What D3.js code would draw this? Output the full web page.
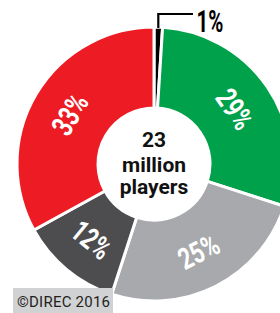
<!DOCTYPE html>
<html>
<head>
<meta charset="utf-8">
<script src="https://cdn.jsdelivr.net/npm/d3@7"></script>
<style>
  body { margin: 0; background: #fff; }
  svg { display: block; overflow: hidden; }
</style>
</head>
<body>
<script>
// share of players by group, clockwise from the top
var groups = ["g1", "g2", "g3", "g4", "g5"];
var shares = [1, 29, 25, 12, 33];
var shareLabels = ["1%", "29%", "25%", "12%", "33%"];
var centerLines = ["23", "million", "players"];
var credit = "©DIREC 2016";

var colors = ["#000000", "#00a14b", "#a7a9ac", "#4d4d4f", "#ed1c24"];

var svgWidth = 280;
var svgHeight = 313;
var cx = 154, cy = 164;
var outerR = 137, innerR = 56;

var svg = d3.select("body").append("svg").attr("width", svgWidth).attr("height", svgHeight);
var chartGroup = svg.append("g").attr("transform", `translate(${cx}, ${cy})`);

var color = d3.scaleOrdinal().domain(groups).range(colors);
var pie = d3.pie().sort(null).value(d => d.v);
var arc = d3.arc().innerRadius(innerR).outerRadius(outerR);
var labelArc = d3.arc().innerRadius(98).outerRadius(98);

var data = groups.map((g, i) => ({ g: g, v: shares[i], label: shareLabels[i] }));
var arcs = pie(data);

chartGroup.selectAll("path")
  .data(arcs)
  .enter()
  .append("path")
  .attr("d", arc)
  .attr("fill", d => color(d.data.g))
  .attr("stroke", "#fff")
  .attr("stroke-width", 3)
  .attr("stroke-linejoin", "miter");

// labels inside the ring, turned along the ring
var ringLabels = arcs.filter(d => d.data.v > 5);
chartGroup.selectAll("text.slice")
  .data(ringLabels)
  .enter()
  .append("text")
  .attr("class", "slice")
  .attr("transform", function(d) {
    var c = labelArc.centroid(d);
    var mid = (d.startAngle + d.endAngle) / 2 * 180 / Math.PI;
    var rot = (mid > 90 && mid < 270) ? mid - 180 : (mid >= 270 ? mid - 360 : mid);
    return `translate(${c[0]}, ${c[1]}) rotate(${rot}) scale(0.74, 1)`;
  })
  .attr("text-anchor", "middle")
  .attr("dy", "0.36em")
  .attr("fill", "#fff")
  .style("font-family", "Roboto, sans-serif")
  .style("font-weight", 700)
  .style("font-size", "30px")
  .text(d => d.data.label);

// the small slice gets a leader line
var small = arcs[0];
var smallMid = (small.startAngle + small.endAngle) / 2;
var sx = Math.sin(smallMid) * outerR;
var sy = -Math.cos(smallMid) * outerR;
var elbowY = -cy + 14;
chartGroup.append("path")
  .attr("d", `M${sx},${sy + 1}L${sx},${elbowY}L${193 - cx},${elbowY}`)
  .attr("fill", "none")
  .attr("stroke", "#000")
  .attr("stroke-width", 2.2);
chartGroup.append("text")
  .attr("transform", `translate(${210 - cx}, ${32 - cy}) scale(0.66, 1)`)
  .attr("text-anchor", "middle")
  .attr("fill", "#000")
  .style("font-family", "Roboto, sans-serif")
  .style("font-weight", 700)
  .style("font-size", "31px")
  .text(small.data.label);

// center text
var baselines = [147, 172, 194];
chartGroup.selectAll("text.center")
  .data(centerLines)
  .enter()
  .append("text")
  .attr("class", "center")
  .attr("x", 0)
  .attr("y", (d, i) => baselines[i] - cy)
  .attr("text-anchor", "middle")
  .attr("fill", "#111")
  .style("font-family", "Roboto, sans-serif")
  .style("font-weight", 700)
  .style("font-size", "21px")
  .text(d => d);

// credit box
svg.append("rect")
  .attr("x", 13).attr("y", 288)
  .attr("width", 100).attr("height", 25)
  .attr("fill", "#d1d2d4");
svg.append("text")
  .attr("x", 17).attr("y", 307)
  .attr("fill", "#231f20")
  .style("font-family", "Roboto, sans-serif")
  .style("font-size", "15px")
  .attr("textLength", 93)
  .text(credit);
</script>
</body>
</html>
